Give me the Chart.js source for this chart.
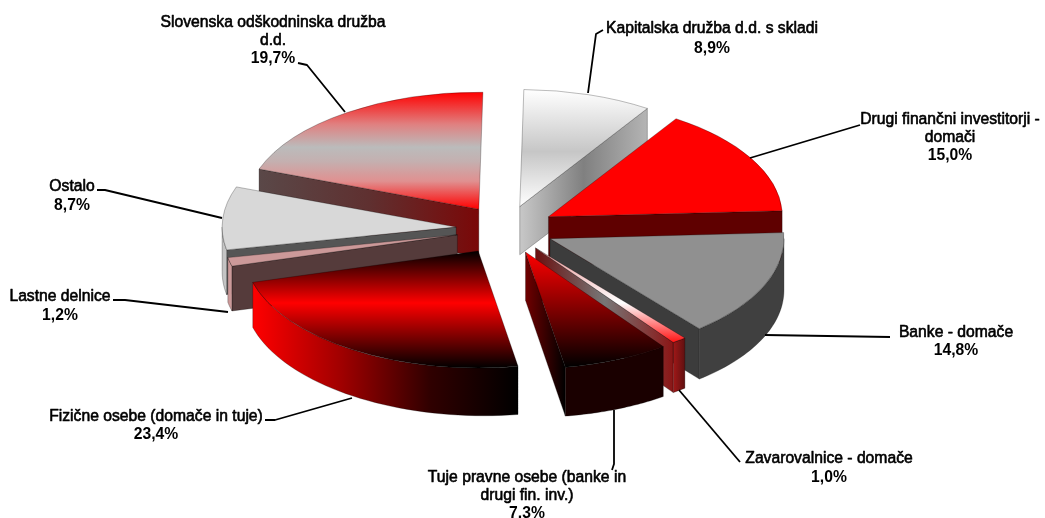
<!DOCTYPE html>
<html><head><meta charset="utf-8">
<style>html,body{margin:0;padding:0;background:#fff}canvas{display:block}</style>
<script src="https://cdn.jsdelivr.net/npm/chart.js@4"></script>
</head><body><canvas id="c" width="1045" height="518"></canvas>
<script>
const categories = ['Kapitalska družba d.d. s skladi','Drugi finančni investitorji - domači','Banke - domače','Zavarovalnice - domače','Tuje pravne osebe (banke in drugi fin. inv.)','Fizične osebe (domače in tuje)','Lastne delnice','Ostalo','Slovenska odškodninska družba d.d.'];
const values = [8.9,15.0,14.8,1.0,7.3,23.4,1.2,8.7,19.7];
const labelLines = [['Kapitalska družba d.d. s skladi'],['Drugi finančni investitorji -','domači'],['Banke - domače'],['Zavarovalnice - domače'],['Tuje pravne osebe (banke in','drugi fin. inv.)'],['Fizične osebe (domače in tuje)'],['Lastne delnice'],['Ostalo'],['Slovenska odškodninska družba','d.d.']];
const explode = [47,49,48,48,50,52,50,50,48];
const RADIUS = 234, RATIO = 0.5, DEPTH = 48, ROTATION = 1;
// top-face gradients: [dy from apex, colour]
const topStops = [
 [[-117,'#ffffff'],[-55,'#c6c6c6'],[0,'#ffffff']],
 [[0,'#ff0000']],
 [[0,'#909090']],
 [[0,'#e89090'],[55,'#ffffff'],[95,'#ff1010']],
 [[0,'#ff0000'],[115,'#000000']],
 [[0,'#000000'],[52,'#ff0000'],[117,'#000000']],
 [[0,'#cc9999']],
 [[0,'#d8d8d8']],
 [[-117,'#ff0000'],[-85,'#e08080'],[-62,'#bbbbbb'],[-48,'#c4b0b0'],[-28,'#e09090'],[0,'#ff0000']]
];
const startWall = [null,null,null,null,null,null,['#553b3b'],['#555555'],['#5a4848','#5f3030','#7a0808']];
const endWall = [['#c8c8c8','#808080','#b4b4b4'],['#5f0000'],['#3c3c3c'],['#6a1010','#777777','#8b1515'],['#700000','#000000'],null,null,null,null];
const outerWall = [null,null,['#404040'],['#a01818','#601010'],['#1a0000'],['#ff0000','#a00000','#300000','#000000'],['#cc9999'],['#c4c4c4'],null];
// label layout: centre x, first line y, line gap
const labelPos = [[712,29],[950,120],[956,333],[829,459],[527,478],[156,417],[60,297],[72,187],[273,23]];
const lineGaps = [20,18,18,19,18,18,19,19,18];
const leaders = [
 [[603,30],[596,34],[588,93]],
 [[860,125],[750,158]],
 [[890,337],[765,335]],
 [[740,462],[679,390]],
 [[612,470],[614,464],[614,410]],
 [[265,420],[275,420],[352,398]],
 [[113,300],[125,300],[228,312]],
 [[97,190],[105,190],[222,218]],
 [[298,63],[307,65],[345,112]]
];

function apex(chart,i){
  const a = chart.getDatasetMeta(0).data[i];
  const mid = (a.startAngle+a.endAngle)/2, e = explode[i];
  return {ex:Math.cos(mid)*e, ey:Math.sin(mid)*e*RATIO, a};
}
function topFill(c){
  const i = c.dataIndex, chart = c.chart, s = topStops[i];
  if (i===undefined || !chart.chartArea) return '#999';
  if (s.length===1) return s[0][1];
  const y = (chart.chartArea.top+chart.chartArea.bottom)/2;
  const y0 = s[0][0], y1 = s[s.length-1][0];
  const g = chart.ctx.createLinearGradient(0,y+y0/RATIO,0,y+y1/RATIO);
  s.forEach(p=>g.addColorStop((p[0]-y0)/(y1-y0),p[1]));
  return g;
}
function fillFace(ctx,pts,cols){
  const xs = pts.map(p=>p[0]);
  const x0 = Math.min(...xs), x1 = Math.max(...xs);
  ctx.beginPath();
  pts.forEach((p,k)=>k?ctx.lineTo(p[0],p[1]):ctx.moveTo(p[0],p[1]));
  ctx.closePath();
  if (cols.length===1) ctx.fillStyle = cols[0];
  else {
    const g = ctx.createLinearGradient(x0,0,x1,0);
    cols.forEach((c,k)=>g.addColorStop(k/(cols.length-1),c));
    ctx.fillStyle = g;
  }
  ctx.fill();
  ctx.lineWidth = 0.6; ctx.strokeStyle = 'rgba(0,0,0,.45)'; ctx.stroke();
}
const wallDepth = x => DEPTH + (x-500)*0.012;
const pie3d = {
  id:'pie3d',
  beforeDatasetDraw(chart){
    const ctx = chart.ctx, meta = chart.getDatasetMeta(0);
    const order = meta.data.map((a,i)=>i).sort((p,q)=>{
      const f = i=>{const o=apex(chart,i), m=(o.a.startAngle+o.a.endAngle)/2; return o.ey+Math.sin(m)*RADIUS*RATIO;};
      return f(p)-f(q);
    });
    order.forEach(i=>{
      const {ex,ey,a} = apex(chart,i);
      const ax = a.x+ex, ay = a.y+ey, r = a.outerRadius;
      const pt = t=>[ax+r*Math.cos(t), ay+r*RATIO*Math.sin(t)];
      const low = p=>[p[0],p[1]+wallDepth(p[0])];
      const quad = t=>{const p=pt(t); return [[ax,ay],p,low(p),low([ax,ay])];};
      if (startWall[i]) fillFace(ctx,quad(a.startAngle),startWall[i]);
      if (endWall[i]) fillFace(ctx,quad(a.endAngle),endWall[i]);
      if (outerWall[i]) {
        const t0 = Math.max(a.startAngle,0), t1 = Math.min(a.endAngle,Math.PI);
        const up=[],down=[];
        for(let k=0;k<=40;k++){const p=pt(t0+(t1-t0)*k/40); up.push(p); down.unshift(low(p));}
        fillFace(ctx,up.concat(down),outerWall[i]);
      }
    });
    meta.data.forEach((a,i)=>{
      const {ex,ey} = apex(chart,i);
      ctx.save();
      ctx.translate(ex,ey+a.y);
      ctx.scale(1,RATIO);
      ctx.translate(0,-a.y);
      a.draw(ctx);
      ctx.restore();
    });
    return false;
  },
  afterDraw(chart){
    const ctx = chart.ctx;
    ctx.save();
    ctx.strokeStyle='#000'; ctx.lineWidth=1.8; ctx.lineJoin='round';
    leaders.forEach(l=>{ctx.beginPath();l.forEach((p,k)=>k?ctx.lineTo(p[0],p[1]):ctx.moveTo(p[0],p[1]));ctx.stroke();});
    ctx.filter='blur(0.45px)';
    ctx.textAlign='center'; ctx.textBaseline='middle'; ctx.fillStyle='#000'; ctx.strokeStyle='#000';
    categories.forEach((n,i)=>{
      const [x,y]=labelPos[i], gap=lineGaps[i], lines=labelLines[i];
      ctx.font='15.7px "Liberation Sans"'; ctx.lineWidth=0.6;
      lines.forEach((t,k)=>{ctx.fillText(t,x,y+k*gap);ctx.strokeText(t,x,y+k*gap);});
      ctx.font='bold 15.7px "Liberation Sans"';
      ctx.fillText(values[i].toFixed(1).replace('.',',')+'%',x,y+lines.length*gap);
    });
    ctx.restore();
  }
};
new Chart(document.getElementById('c'),{
  type:'pie',
  data:{labels:categories,datasets:[{data:values,backgroundColor:topFill,borderColor:'rgba(0,0,0,.5)',borderWidth:0.7,clip:false,radius:RADIUS,rotation:ROTATION}]},
  options:{responsive:false,animation:false,layout:{padding:{right:33,bottom:60}},plugins:{legend:{display:false},tooltip:{enabled:false}}},
  plugins:[pie3d]
});
</script>
</body></html>
